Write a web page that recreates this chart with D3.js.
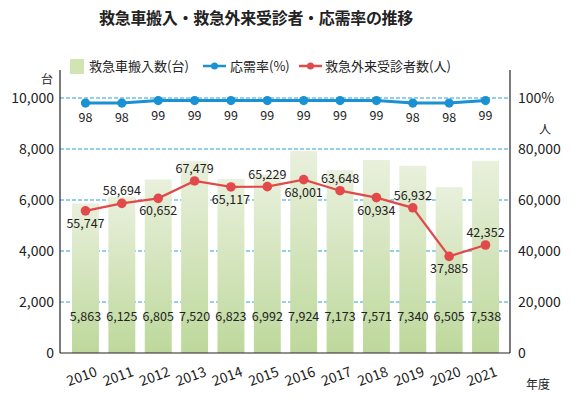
<!DOCTYPE html>
<html>
<head>
<meta charset="utf-8">
<script src="https://cdn.jsdelivr.net/npm/d3@7"></script>
<style>
body { margin: 0; background: #fff; }
svg text { font-family: "Noto Sans CJK JP", "Noto Sans", sans-serif; fill: #222; }
</style>
</head>
<body>
<svg width="582" height="399"></svg>
<script>
// data
var years = ["2010","2011","2012","2013","2014","2015","2016","2017","2018","2019","2020","2021"];
var ambulance = [5863, 6125, 6805, 7520, 6823, 6992, 7924, 7173, 7571, 7340, 6505, 7538];
var acceptRate = [98, 98, 99, 99, 99, 99, 99, 99, 99, 98, 98, 99];
var erVisits = [55747, 58694, 60652, 67479, 65117, 65229, 68001, 63648, 60934, 56932, 37885, 42352];
var leftTicks = [0, 2000, 4000, 6000, 8000, 10000];
var rightTicks = [0, 20000, 40000, 60000, 80000];

var svg = d3.select("svg");
var plotL = 60, plotR = 510, plotT = 98, plotB = 353;

// scales
var x = d3.scaleBand().domain(years).range([67.3, 503.7]).paddingInner(0.26).paddingOuter(0.13);
var yL = d3.scaleLinear().domain([0, 10000]).range([plotB, plotT]);
var yR = d3.scaleLinear().domain([0, 100000]).range([plotB, plotT]);
var yP = d3.scaleLinear().domain([0, 100]).range([plotB, plotT]);
var fmt = d3.format(",");
var cx = function(d, i) { return x(years[i]) + x.bandwidth() / 2; };

// gradient for bars
var grad = svg.append("defs").append("linearGradient")
    .attr("id", "barGrad").attr("x1", 0).attr("y1", 0).attr("x2", 0).attr("y2", 1);
grad.append("stop").attr("offset", "0%").attr("stop-color", "#e9f0dc");
grad.append("stop").attr("offset", "100%").attr("stop-color", "#bdd89b");

// title
svg.append("text")
    .attr("x", 256).attr("y", 24)
    .attr("text-anchor", "middle")
    .style("font-size", "16px").style("font-weight", "bold")
    .style("letter-spacing", "-0.3px")
    .text("救急車搬入・救急外来受診者・応需率の推移");

// gridlines
svg.append("g").selectAll("line")
    .data(leftTicks.slice(1))
  .enter().append("line")
    .attr("x1", plotL).attr("x2", plotR)
    .attr("y1", function(d) { return yL(d); })
    .attr("y2", function(d) { return yL(d); })
    .attr("stroke", "#2a9fd6").attr("stroke-width", 1)
    .attr("stroke-dasharray", "4,2");

// bars
svg.append("g").selectAll("rect")
    .data(ambulance)
  .enter().append("rect")
    .attr("x", function(d, i) { return x(years[i]); })
    .attr("y", function(d) { return yL(d); })
    .attr("width", x.bandwidth())
    .attr("height", function(d) { return plotB - yL(d); })
    .attr("fill", "url(#barGrad)");

// bar labels
svg.append("g").selectAll("text")
    .data(ambulance)
  .enter().append("text")
    .attr("x", cx)
    .attr("y", 321)
    .attr("text-anchor", "middle")
    .style("font-size", "12.5px")
    .text(function(d) { return fmt(d); });

// axes
var axL = svg.append("g")
    .attr("transform", "translate(" + plotL + ",0)")
    .call(d3.axisLeft(yL).tickValues(leftTicks).tickFormat(fmt).tickSize(0).tickPadding(6));
var axR = svg.append("g")
    .attr("transform", "translate(" + plotR + ",0)")
    .call(d3.axisRight(yR).tickValues(rightTicks.concat([100000]))
      .tickFormat(function(d) { return d === 100000 ? "100%" : fmt(d); })
      .tickSize(0).tickPadding(8));
[axL, axR].forEach(function(ax) {
  ax.select(".domain").remove();
  ax.selectAll("text").style("font-size", "14px").attr("fill", "#222")
    .style("font-family", "'Noto Sans CJK JP', sans-serif");
});

svg.append("line").attr("x1", plotL).attr("x2", plotL).attr("y1", 70).attr("y2", plotB)
    .attr("stroke", "#222").attr("stroke-width", 1.2);
svg.append("line").attr("x1", plotR).attr("x2", plotR).attr("y1", 70).attr("y2", plotB)
    .attr("stroke", "#222").attr("stroke-width", 1.2);
svg.append("line").attr("x1", plotL).attr("x2", plotR).attr("y1", plotB).attr("y2", plotB)
    .attr("stroke", "#222").attr("stroke-width", 1.2);

// unit labels
svg.append("text").attr("x", 47).attr("y", 84).attr("text-anchor", "middle")
    .style("font-size", "12px").text("台");
svg.append("text").attr("x", 545).attr("y", 134).attr("text-anchor", "middle")
    .style("font-size", "12px").text("人");
svg.append("text").attr("x", 538).attr("y", 389).attr("text-anchor", "middle")
    .style("font-size", "12px").text("年度");

// x labels
svg.append("g").selectAll("text")
    .data(years)
  .enter().append("text")
    .attr("transform", function(d) {
      return "translate(" + (x(d) + x.bandwidth() / 2 - 2) + ",381) rotate(-20)";
    })
    .attr("text-anchor", "middle")
    .style("font-size", "14px")
    .text(function(d) { return d; });

// er visits line (red)
var lineR = d3.line().x(cx).y(function(d) { return yR(d); });
svg.append("path").datum(erVisits)
    .attr("d", lineR).attr("fill", "none")
    .attr("stroke", "#e2494a").attr("stroke-width", 2.2);
svg.append("g").selectAll("circle")
    .data(erVisits)
  .enter().append("circle")
    .attr("cx", cx)
    .attr("cy", function(d) { return yR(d); })
    .attr("r", 4.8).attr("fill", "#e2494a");
svg.append("g").selectAll("text")
    .data(erVisits)
  .enter().append("text")
    .attr("x", cx)
    .attr("y", function(d, i) { return yR(d) + (i % 2 === 0 ? 17 : -8); })
    .attr("text-anchor", "middle")
    .style("font-size", "12.5px")
    .text(function(d) { return fmt(d); });

// accept rate line (blue)
var lineB = d3.line().x(cx).y(function(d) { return yP(d); });
svg.append("path").datum(acceptRate)
    .attr("d", lineB).attr("fill", "none")
    .attr("stroke", "#1a91d2").attr("stroke-width", 3);
svg.append("g").selectAll("circle")
    .data(acceptRate)
  .enter().append("circle")
    .attr("cx", cx)
    .attr("cy", function(d) { return yP(d); })
    .attr("r", 4.6).attr("fill", "#1a91d2");
svg.append("g").selectAll("text")
    .data(acceptRate)
  .enter().append("text")
    .attr("x", cx)
    .attr("y", function(d) { return yP(d) + 19; })
    .attr("text-anchor", "middle")
    .style("font-size", "12.5px")
    .text(function(d) { return d; });

// legend
var lg = svg.append("g").attr("transform", "translate(0,66)");
lg.append("rect").attr("x", 70).attr("y", -7).attr("width", 14).attr("height", 15).attr("fill", "#d3e4b3");
lg.append("text").attr("x", 89).attr("y", 5).style("font-size", "13px").text("救急車搬入数(台)");
lg.append("line").attr("x1", 203).attr("x2", 226).attr("y1", 0).attr("y2", 0)
    .attr("stroke", "#1a91d2").attr("stroke-width", 2.5);
lg.append("circle").attr("cx", 214.5).attr("cy", 0).attr("r", 3.5).attr("fill", "#1a91d2");
lg.append("text").attr("x", 230).attr("y", 5).style("font-size", "13px").text("応需率(%)");
lg.append("line").attr("x1", 299).attr("x2", 322).attr("y1", 0).attr("y2", 0)
    .attr("stroke", "#e2494a").attr("stroke-width", 2.5);
lg.append("circle").attr("cx", 310.5).attr("cy", 0).attr("r", 3.5).attr("fill", "#e2494a");
lg.append("text").attr("x", 325).attr("y", 5).style("font-size", "13px").text("救急外来受診者数(人)");
</script>
</body>
</html>
